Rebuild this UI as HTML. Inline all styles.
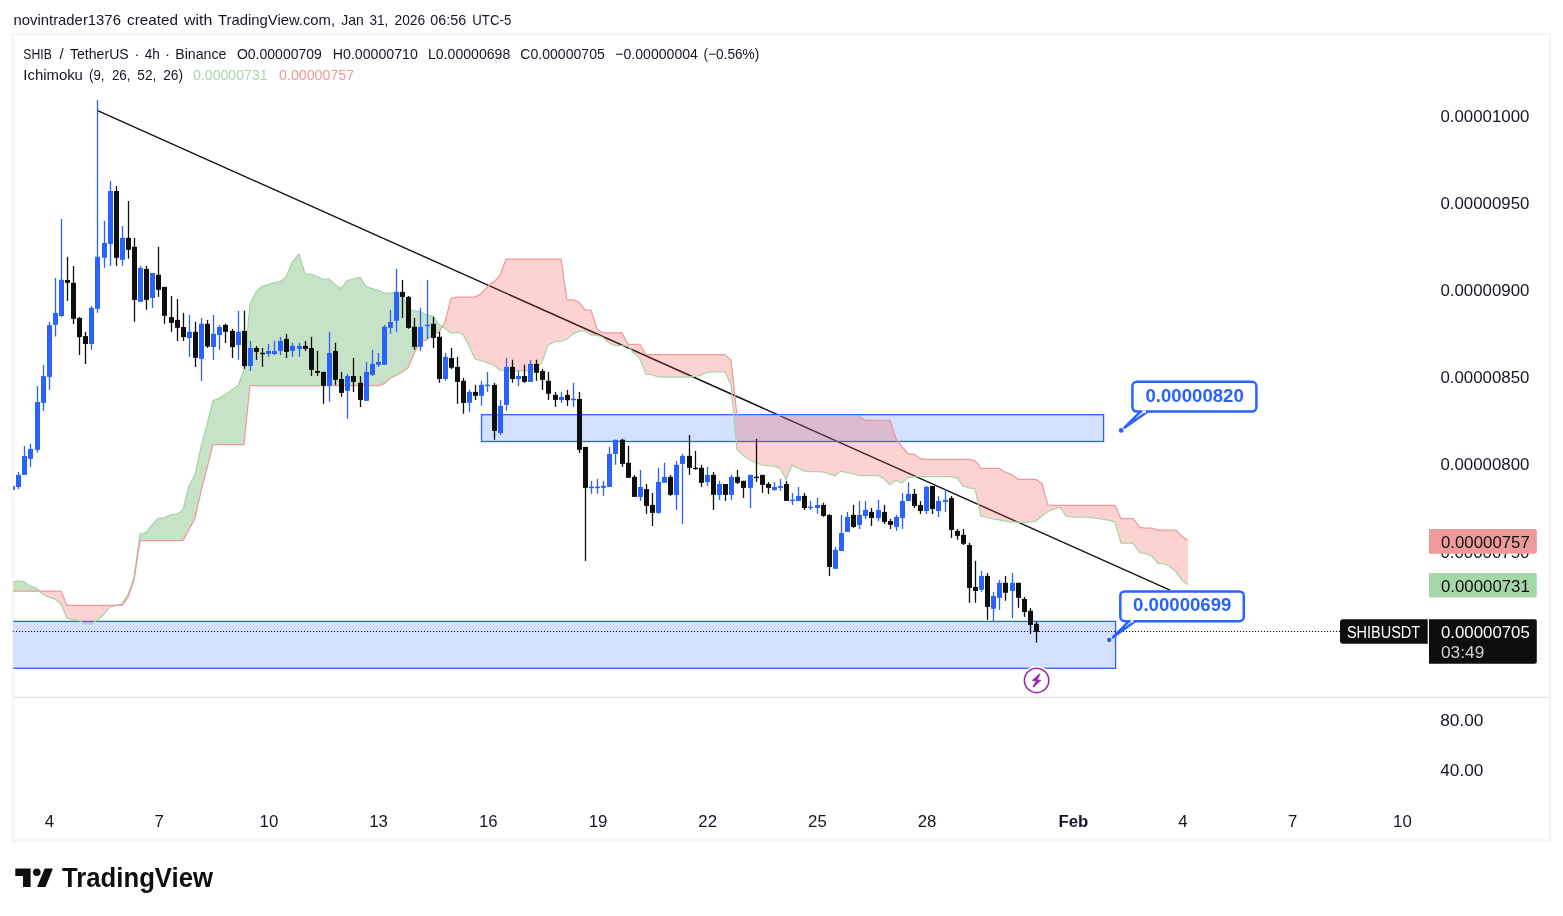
<!DOCTYPE html>
<html><head><meta charset="utf-8"><title>SHIB / TetherUS chart</title>
<style>
html,body{margin:0;padding:0;background:#fff;}
body{width:1563px;height:916px;overflow:hidden;font-family:"Liberation Sans",Arial,sans-serif;}
svg{display:block;position:absolute;left:0;top:0;}
text{font-family:"Liberation Sans",Arial,sans-serif;}
</style></head><body>
<svg width="1563" height="916" viewBox="0 0 1563 916">
<rect x="0" y="0" width="1563" height="916" fill="#fff"/>
<defs><clipPath id="pane"><rect x="13.3" y="35" width="1414.7" height="661.5"/></clipPath></defs>
<rect x="13" y="34" width="1537" height="806.3" fill="none" stroke="#f3f3f4" stroke-width="2"/>
<g clip-path="url(#pane)">
<line x1="97.6" y1="110.6" x2="1170" y2="590.2" stroke="#131313" stroke-width="1.4"/>
<rect x="481.5" y="414.7" width="622.1" height="26.8" fill="rgba(41,98,255,0.2)" stroke="#2962ff" stroke-width="1.3"/>
<rect x="0" y="621.4" width="1115.6" height="46.9" fill="rgba(41,98,255,0.2)" stroke="#2962ff" stroke-width="1.3"/>
<path d="M12.0,582.4 L18.0,580.9 L24.0,581.9 L30.0,585.9 L37.0,588.5 L39.5,591.0 L39.5,591.0 L37.0,591.0 L30.0,591.0 L24.0,591.0 L18.0,591.0 L12.0,591.0Z" fill="rgba(67,160,71,0.30)"/>
<path d="M39.5,591.0 L43.0,594.5 L49.0,597.4 L55.0,598.9 L61.0,603.9 L67.0,618.4 L73.0,619.3 L79.0,620.5 L85.0,623.8 L91.0,623.8 L97.0,620.5 L104.0,614.0 L110.0,606.9 L116.0,605.4 L116.0,605.4 L110.0,605.4 L104.0,605.4 L97.0,605.4 L91.0,605.4 L85.0,605.4 L79.0,605.4 L73.0,605.4 L67.0,605.4 L61.0,591.0 L55.0,591.0 L49.0,591.0 L43.0,591.0 L39.5,591.0Z" fill="rgba(244,67,54,0.235)"/>
<path d="M116.0,605.4 L122.0,603.9 L128.0,594.5 L134.0,578.0 L140.0,534.1 L146.0,532.6 L152.0,525.0 L158.0,518.3 L164.0,517.9 L171.0,514.4 L177.0,514.0 L183.0,510.0 L189.0,485.8 L195.0,474.7 L201.0,446.8 L207.0,424.6 L213.0,400.4 L219.0,398.6 L225.0,394.5 L232.0,389.7 L238.0,385.6 L244.0,370.0 L250.0,304.1 L256.0,292.0 L262.0,286.4 L268.0,284.6 L274.0,282.7 L280.0,281.8 L286.0,277.1 L292.0,262.3 L299.0,253.9 L305.0,274.0 L311.0,274.0 L317.0,276.2 L323.0,279.9 L329.0,279.0 L335.0,284.6 L341.0,288.6 L347.0,280.8 L353.0,279.0 L360.0,277.1 L366.0,286.4 L372.0,288.6 L378.0,290.1 L384.0,293.1 L390.0,293.1 L396.0,292.5 L402.0,293.9 L408.0,309.8 L414.0,310.6 L420.0,311.8 L427.0,315.4 L433.0,315.9 L439.0,324.6 L442.3,326.6 L442.3,326.6 L439.0,332.3 L433.0,333.4 L427.0,340.0 L420.0,341.1 L414.0,353.9 L408.0,367.7 L402.0,372.2 L396.0,375.5 L390.0,378.3 L384.0,383.9 L378.0,385.6 L372.0,385.6 L366.0,385.6 L360.0,385.6 L353.0,385.6 L347.0,385.6 L341.0,385.6 L335.0,385.6 L329.0,385.6 L323.0,385.6 L317.0,385.6 L311.0,385.6 L305.0,385.6 L299.0,385.6 L292.0,385.6 L286.0,385.6 L280.0,385.6 L274.0,385.6 L268.0,385.6 L262.0,385.6 L256.0,385.6 L250.0,385.6 L244.0,444.6 L238.0,444.6 L232.0,444.6 L225.0,444.6 L219.0,444.6 L213.0,444.6 L207.0,468.2 L201.0,491.4 L195.0,518.3 L189.0,529.5 L183.0,540.6 L177.0,540.6 L171.0,540.6 L164.0,540.6 L158.0,540.6 L152.0,540.6 L146.0,540.6 L140.0,540.6 L134.0,580.2 L128.0,597.4 L122.0,605.4 L116.0,605.4Z" fill="rgba(67,160,71,0.30)"/>
<path d="M442.3,326.6 L445.0,328.2 L451.0,333.4 L457.0,332.1 L463.0,334.4 L469.0,345.7 L475.0,359.0 L481.0,360.6 L487.0,362.6 L494.0,365.2 L500.0,370.3 L506.0,370.5 L512.0,370.5 L518.0,370.5 L524.0,370.5 L530.0,370.5 L536.0,368.5 L542.0,362.5 L548.0,344.9 L555.0,341.7 L561.0,341.2 L567.0,339.3 L573.0,333.8 L579.0,331.5 L585.0,330.6 L591.0,335.2 L597.0,335.2 L603.0,337.5 L609.0,343.0 L615.0,345.5 L622.0,345.5 L628.0,346.4 L634.0,353.2 L640.0,358.8 L646.0,374.2 L652.0,374.6 L658.0,376.8 L664.0,377.0 L670.0,377.0 L676.0,377.0 L682.0,377.0 L689.0,377.0 L695.0,376.4 L701.0,375.5 L707.0,372.3 L713.0,371.8 L719.0,371.8 L725.0,371.8 L731.0,384.8 L737.0,449.7 L743.0,455.3 L750.0,460.0 L756.0,462.7 L762.0,465.0 L768.0,465.5 L774.0,466.1 L780.0,468.3 L786.0,479.5 L792.0,465.2 L798.0,468.3 L804.0,471.1 L810.0,471.5 L817.0,471.5 L823.0,472.0 L829.0,473.9 L835.0,475.7 L841.0,471.1 L847.0,472.6 L853.0,473.9 L859.0,475.7 L865.0,475.7 L871.0,475.7 L878.0,475.7 L884.0,478.5 L890.0,485.0 L896.0,480.3 L902.0,483.1 L908.0,477.6 L914.0,477.0 L920.0,476.6 L926.0,476.6 L932.0,476.6 L938.0,476.6 L945.0,476.6 L951.0,476.6 L957.0,477.9 L963.0,485.9 L969.0,487.8 L975.0,488.7 L981.0,516.5 L987.0,517.5 L993.0,519.0 L999.0,519.9 L1005.0,521.2 L1012.0,522.1 L1018.0,522.1 L1024.0,522.7 L1030.0,522.1 L1036.0,520.8 L1042.0,516.1 L1048.0,511.5 L1054.0,509.2 L1060.0,507.2 L1066.0,516.1 L1073.0,517.0 L1079.0,517.0 L1085.0,517.2 L1091.0,517.6 L1097.0,518.3 L1103.0,519.5 L1109.0,520.2 L1115.0,522.1 L1121.0,543.0 L1127.0,543.0 L1133.0,543.4 L1140.0,552.7 L1146.0,553.6 L1152.0,556.0 L1158.0,563.5 L1164.0,563.5 L1170.0,566.8 L1176.0,571.8 L1182.0,580.2 L1188.0,584.8 L1188.0,540.6 L1182.0,536.5 L1176.0,530.0 L1170.0,530.0 L1164.0,530.0 L1158.0,530.0 L1152.0,528.2 L1146.0,528.2 L1140.0,527.3 L1133.0,518.5 L1127.0,518.5 L1121.0,518.5 L1115.0,505.4 L1109.0,505.4 L1103.0,505.4 L1097.0,505.4 L1091.0,505.4 L1085.0,505.4 L1079.0,505.4 L1073.0,505.4 L1066.0,505.4 L1060.0,505.4 L1054.0,505.4 L1048.0,505.4 L1042.0,483.6 L1036.0,479.4 L1030.0,479.4 L1024.0,479.4 L1018.0,479.4 L1012.0,474.8 L1005.0,472.0 L999.0,468.3 L993.0,468.3 L987.0,468.3 L981.0,468.3 L975.0,460.8 L969.0,459.4 L963.0,459.4 L957.0,459.4 L951.0,459.4 L945.0,459.4 L938.0,459.4 L932.0,459.4 L926.0,459.4 L920.0,458.4 L914.0,454.0 L908.0,454.0 L902.0,446.5 L896.0,438.6 L890.0,420.4 L884.0,420.4 L878.0,420.4 L871.0,420.4 L865.0,420.4 L859.0,415.6 L853.0,415.6 L847.0,415.6 L841.0,415.6 L835.0,415.6 L829.0,415.6 L823.0,415.6 L817.0,415.6 L810.0,415.6 L804.0,415.6 L798.0,415.6 L792.0,415.6 L786.0,415.6 L780.0,415.6 L774.0,415.6 L768.0,415.6 L762.0,415.6 L756.0,415.6 L750.0,415.6 L743.0,415.6 L737.0,415.6 L731.0,360.3 L725.0,354.5 L719.0,354.5 L713.0,354.5 L707.0,354.5 L701.0,354.5 L695.0,354.5 L689.0,354.5 L682.0,354.5 L676.0,354.5 L670.0,354.5 L664.0,354.5 L658.0,354.5 L652.0,354.5 L646.0,354.5 L640.0,344.3 L634.0,344.3 L628.0,344.3 L622.0,332.8 L615.0,332.8 L609.0,332.8 L603.0,332.8 L597.0,329.1 L591.0,310.2 L585.0,310.2 L579.0,302.2 L573.0,299.8 L567.0,299.8 L561.0,259.1 L555.0,259.1 L548.0,259.1 L542.0,259.1 L536.0,259.1 L530.0,259.1 L524.0,259.1 L518.0,259.1 L512.0,259.1 L506.0,259.1 L500.0,275.3 L494.0,281.8 L487.0,287.3 L481.0,293.8 L475.0,297.2 L469.0,297.2 L463.0,297.2 L457.0,297.2 L451.0,298.5 L445.0,322.1 L442.3,326.6Z" fill="rgba(244,67,54,0.235)"/>
<path d="M12.0,582.4 L18.0,580.9 L24.0,581.9 L30.0,585.9 L37.0,588.5 L43.0,594.5 L49.0,597.4 L55.0,598.9 L61.0,603.9 L67.0,618.4 L73.0,619.3 L79.0,620.5 L85.0,623.8 L91.0,623.8 L97.0,620.5 L104.0,614.0 L110.0,606.9 L116.0,605.4 L122.0,603.9 L128.0,594.5 L134.0,578.0 L140.0,534.1 L146.0,532.6 L152.0,525.0 L158.0,518.3 L164.0,517.9 L171.0,514.4 L177.0,514.0 L183.0,510.0 L189.0,485.8 L195.0,474.7 L201.0,446.8 L207.0,424.6 L213.0,400.4 L219.0,398.6 L225.0,394.5 L232.0,389.7 L238.0,385.6 L244.0,370.0 L250.0,304.1 L256.0,292.0 L262.0,286.4 L268.0,284.6 L274.0,282.7 L280.0,281.8 L286.0,277.1 L292.0,262.3 L299.0,253.9 L305.0,274.0 L311.0,274.0 L317.0,276.2 L323.0,279.9 L329.0,279.0 L335.0,284.6 L341.0,288.6 L347.0,280.8 L353.0,279.0 L360.0,277.1 L366.0,286.4 L372.0,288.6 L378.0,290.1 L384.0,293.1 L390.0,293.1 L396.0,292.5 L402.0,293.9 L408.0,309.8 L414.0,310.6 L420.0,311.8 L427.0,315.4 L433.0,315.9 L439.0,324.6 L445.0,328.2 L451.0,333.4 L457.0,332.1 L463.0,334.4 L469.0,345.7 L475.0,359.0 L481.0,360.6 L487.0,362.6 L494.0,365.2 L500.0,370.3 L506.0,370.5 L512.0,370.5 L518.0,370.5 L524.0,370.5 L530.0,370.5 L536.0,368.5 L542.0,362.5 L548.0,344.9 L555.0,341.7 L561.0,341.2 L567.0,339.3 L573.0,333.8 L579.0,331.5 L585.0,330.6 L591.0,335.2 L597.0,335.2 L603.0,337.5 L609.0,343.0 L615.0,345.5 L622.0,345.5 L628.0,346.4 L634.0,353.2 L640.0,358.8 L646.0,374.2 L652.0,374.6 L658.0,376.8 L664.0,377.0 L670.0,377.0 L676.0,377.0 L682.0,377.0 L689.0,377.0 L695.0,376.4 L701.0,375.5 L707.0,372.3 L713.0,371.8 L719.0,371.8 L725.0,371.8 L731.0,384.8 L737.0,449.7 L743.0,455.3 L750.0,460.0 L756.0,462.7 L762.0,465.0 L768.0,465.5 L774.0,466.1 L780.0,468.3 L786.0,479.5 L792.0,465.2 L798.0,468.3 L804.0,471.1 L810.0,471.5 L817.0,471.5 L823.0,472.0 L829.0,473.9 L835.0,475.7 L841.0,471.1 L847.0,472.6 L853.0,473.9 L859.0,475.7 L865.0,475.7 L871.0,475.7 L878.0,475.7 L884.0,478.5 L890.0,485.0 L896.0,480.3 L902.0,483.1 L908.0,477.6 L914.0,477.0 L920.0,476.6 L926.0,476.6 L932.0,476.6 L938.0,476.6 L945.0,476.6 L951.0,476.6 L957.0,477.9 L963.0,485.9 L969.0,487.8 L975.0,488.7 L981.0,516.5 L987.0,517.5 L993.0,519.0 L999.0,519.9 L1005.0,521.2 L1012.0,522.1 L1018.0,522.1 L1024.0,522.7 L1030.0,522.1 L1036.0,520.8 L1042.0,516.1 L1048.0,511.5 L1054.0,509.2 L1060.0,507.2 L1066.0,516.1 L1073.0,517.0 L1079.0,517.0 L1085.0,517.2 L1091.0,517.6 L1097.0,518.3 L1103.0,519.5 L1109.0,520.2 L1115.0,522.1 L1121.0,543.0 L1127.0,543.0 L1133.0,543.4 L1140.0,552.7 L1146.0,553.6 L1152.0,556.0 L1158.0,563.5 L1164.0,563.5 L1170.0,566.8 L1176.0,571.8 L1182.0,580.2 L1188.0,584.8" fill="none" stroke="#a5d6a7" stroke-width="1.25"/>
<path d="M12.0,591.0 L18.0,591.0 L24.0,591.0 L30.0,591.0 L37.0,591.0 L43.0,591.0 L49.0,591.0 L55.0,591.0 L61.0,591.0 L67.0,605.4 L73.0,605.4 L79.0,605.4 L85.0,605.4 L91.0,605.4 L97.0,605.4 L104.0,605.4 L110.0,605.4 L116.0,605.4 L122.0,605.4 L128.0,597.4 L134.0,580.2 L140.0,540.6 L146.0,540.6 L152.0,540.6 L158.0,540.6 L164.0,540.6 L171.0,540.6 L177.0,540.6 L183.0,540.6 L189.0,529.5 L195.0,518.3 L201.0,491.4 L207.0,468.2 L213.0,444.6 L219.0,444.6 L225.0,444.6 L232.0,444.6 L238.0,444.6 L244.0,444.6 L250.0,385.6 L256.0,385.6 L262.0,385.6 L268.0,385.6 L274.0,385.6 L280.0,385.6 L286.0,385.6 L292.0,385.6 L299.0,385.6 L305.0,385.6 L311.0,385.6 L317.0,385.6 L323.0,385.6 L329.0,385.6 L335.0,385.6 L341.0,385.6 L347.0,385.6 L353.0,385.6 L360.0,385.6 L366.0,385.6 L372.0,385.6 L378.0,385.6 L384.0,383.9 L390.0,378.3 L396.0,375.5 L402.0,372.2 L408.0,367.7 L414.0,353.9 L420.0,341.1 L427.0,340.0 L433.0,333.4 L439.0,332.3 L445.0,322.1 L451.0,298.5 L457.0,297.2 L463.0,297.2 L469.0,297.2 L475.0,297.2 L481.0,293.8 L487.0,287.3 L494.0,281.8 L500.0,275.3 L506.0,259.1 L512.0,259.1 L518.0,259.1 L524.0,259.1 L530.0,259.1 L536.0,259.1 L542.0,259.1 L548.0,259.1 L555.0,259.1 L561.0,259.1 L567.0,299.8 L573.0,299.8 L579.0,302.2 L585.0,310.2 L591.0,310.2 L597.0,329.1 L603.0,332.8 L609.0,332.8 L615.0,332.8 L622.0,332.8 L628.0,344.3 L634.0,344.3 L640.0,344.3 L646.0,354.5 L652.0,354.5 L658.0,354.5 L664.0,354.5 L670.0,354.5 L676.0,354.5 L682.0,354.5 L689.0,354.5 L695.0,354.5 L701.0,354.5 L707.0,354.5 L713.0,354.5 L719.0,354.5 L725.0,354.5 L731.0,360.3 L737.0,415.6 L743.0,415.6 L750.0,415.6 L756.0,415.6 L762.0,415.6 L768.0,415.6 L774.0,415.6 L780.0,415.6 L786.0,415.6 L792.0,415.6 L798.0,415.6 L804.0,415.6 L810.0,415.6 L817.0,415.6 L823.0,415.6 L829.0,415.6 L835.0,415.6 L841.0,415.6 L847.0,415.6 L853.0,415.6 L859.0,415.6 L865.0,420.4 L871.0,420.4 L878.0,420.4 L884.0,420.4 L890.0,420.4 L896.0,438.6 L902.0,446.5 L908.0,454.0 L914.0,454.0 L920.0,458.4 L926.0,459.4 L932.0,459.4 L938.0,459.4 L945.0,459.4 L951.0,459.4 L957.0,459.4 L963.0,459.4 L969.0,459.4 L975.0,460.8 L981.0,468.3 L987.0,468.3 L993.0,468.3 L999.0,468.3 L1005.0,472.0 L1012.0,474.8 L1018.0,479.4 L1024.0,479.4 L1030.0,479.4 L1036.0,479.4 L1042.0,483.6 L1048.0,505.4 L1054.0,505.4 L1060.0,505.4 L1066.0,505.4 L1073.0,505.4 L1079.0,505.4 L1085.0,505.4 L1091.0,505.4 L1097.0,505.4 L1103.0,505.4 L1109.0,505.4 L1115.0,505.4 L1121.0,518.5 L1127.0,518.5 L1133.0,518.5 L1140.0,527.3 L1146.0,528.2 L1152.0,528.2 L1158.0,530.0 L1164.0,530.0 L1170.0,530.0 L1176.0,530.0 L1182.0,536.5 L1188.0,540.6" fill="none" stroke="#ef9a9a" stroke-width="1.25"/>
<line x1="13" y1="631.5" x2="1340" y2="631.5" stroke="#111" stroke-width="1.2" stroke-dasharray="1.15 1.85"/>
<rect x="11.85" y="485.9" width="1.3" height="4.1" fill="#2962ff"/>
<rect x="10.0" y="485.9" width="5" height="4.1" fill="#2962ff"/>
<rect x="17.85" y="471.9" width="1.3" height="17.1" fill="#2962ff"/>
<rect x="16.0" y="474.9" width="5" height="12.1" fill="#2962ff"/>
<rect x="23.85" y="446.0" width="1.3" height="28.9" fill="#2962ff"/>
<rect x="22.0" y="456.0" width="5" height="18.9" fill="#2962ff"/>
<rect x="29.85" y="443.9" width="1.3" height="23.0" fill="#2962ff"/>
<rect x="28.0" y="448.9" width="5" height="10.0" fill="#2962ff"/>
<rect x="36.85" y="386.0" width="1.3" height="66.8" fill="#2962ff"/>
<rect x="35.0" y="402.0" width="5" height="47.9" fill="#2962ff"/>
<rect x="42.85" y="364.9" width="1.3" height="46.0" fill="#2962ff"/>
<rect x="41.0" y="376.0" width="5" height="26.9" fill="#2962ff"/>
<rect x="48.85" y="321.8" width="1.3" height="68.2" fill="#2962ff"/>
<rect x="47.0" y="325.1" width="5" height="51.8" fill="#2962ff"/>
<rect x="54.85" y="278.0" width="1.3" height="58.6" fill="#2962ff"/>
<rect x="53.0" y="312.9" width="5" height="11.9" fill="#2962ff"/>
<rect x="60.85" y="219.0" width="1.3" height="98.0" fill="#2962ff"/>
<rect x="59.0" y="279.8" width="5" height="36.2" fill="#2962ff"/>
<rect x="66.85" y="256.8" width="1.3" height="44.0" fill="#0e0e0e"/>
<rect x="65.0" y="280.0" width="5" height="2.8" fill="#0e0e0e"/>
<rect x="72.85" y="265.9" width="1.3" height="58.1" fill="#0e0e0e"/>
<rect x="71.0" y="282.8" width="5" height="36.0" fill="#0e0e0e"/>
<rect x="78.85" y="316.9" width="1.3" height="38.1" fill="#0e0e0e"/>
<rect x="77.0" y="317.9" width="5" height="19.2" fill="#0e0e0e"/>
<rect x="84.85" y="331.8" width="1.3" height="32.2" fill="#0e0e0e"/>
<rect x="83.0" y="336.1" width="5" height="7.9" fill="#0e0e0e"/>
<rect x="90.85" y="306.0" width="1.3" height="44.0" fill="#2962ff"/>
<rect x="89.0" y="307.9" width="5" height="36.1" fill="#2962ff"/>
<rect x="96.85" y="100.2" width="1.3" height="212.6" fill="#2962ff"/>
<rect x="95.0" y="256.8" width="5" height="52.0" fill="#2962ff"/>
<rect x="103.85" y="221.0" width="1.3" height="46.8" fill="#2962ff"/>
<rect x="102.0" y="242.9" width="5" height="14.8" fill="#2962ff"/>
<rect x="109.85" y="181.1" width="1.3" height="84.8" fill="#2962ff"/>
<rect x="108.0" y="191.0" width="5" height="52.9" fill="#2962ff"/>
<rect x="115.85" y="186.1" width="1.3" height="79.8" fill="#0e0e0e"/>
<rect x="114.0" y="191.0" width="5" height="66.8" fill="#0e0e0e"/>
<rect x="121.85" y="226.0" width="1.3" height="39.9" fill="#2962ff"/>
<rect x="120.0" y="237.9" width="5" height="21.9" fill="#2962ff"/>
<rect x="127.85" y="201.0" width="1.3" height="57.7" fill="#0e0e0e"/>
<rect x="126.0" y="237.9" width="5" height="11.9" fill="#0e0e0e"/>
<rect x="133.85" y="237.9" width="1.3" height="83.9" fill="#0e0e0e"/>
<rect x="132.0" y="246.8" width="5" height="53.1" fill="#0e0e0e"/>
<rect x="139.85" y="265.9" width="1.3" height="35.8" fill="#2962ff"/>
<rect x="138.0" y="268.0" width="5" height="33.8" fill="#2962ff"/>
<rect x="145.85" y="265.9" width="1.3" height="43.8" fill="#0e0e0e"/>
<rect x="144.0" y="268.9" width="5" height="31.0" fill="#0e0e0e"/>
<rect x="151.85" y="273.0" width="1.3" height="34.9" fill="#2962ff"/>
<rect x="150.0" y="273.0" width="5" height="24.9" fill="#2962ff"/>
<rect x="157.85" y="246.8" width="1.3" height="50.1" fill="#0e0e0e"/>
<rect x="156.0" y="274.8" width="5" height="15.0" fill="#0e0e0e"/>
<rect x="163.85" y="286.9" width="1.3" height="36.9" fill="#0e0e0e"/>
<rect x="162.0" y="286.9" width="5" height="28.9" fill="#0e0e0e"/>
<rect x="170.85" y="296.0" width="1.3" height="35.8" fill="#0e0e0e"/>
<rect x="169.0" y="317.1" width="5" height="5.8" fill="#0e0e0e"/>
<rect x="176.85" y="299.0" width="1.3" height="42.0" fill="#0e0e0e"/>
<rect x="175.0" y="319.9" width="5" height="8.0" fill="#0e0e0e"/>
<rect x="182.85" y="312.9" width="1.3" height="28.1" fill="#0e0e0e"/>
<rect x="181.0" y="327.0" width="5" height="10.1" fill="#0e0e0e"/>
<rect x="188.85" y="314.9" width="1.3" height="42.0" fill="#2962ff"/>
<rect x="187.0" y="331.8" width="5" height="6.2" fill="#2962ff"/>
<rect x="194.85" y="321.8" width="1.3" height="45.2" fill="#0e0e0e"/>
<rect x="193.0" y="331.8" width="5" height="26.0" fill="#0e0e0e"/>
<rect x="200.85" y="317.9" width="1.3" height="63.1" fill="#2962ff"/>
<rect x="199.0" y="323.8" width="5" height="35.1" fill="#2962ff"/>
<rect x="206.85" y="319.9" width="1.3" height="28.1" fill="#0e0e0e"/>
<rect x="205.0" y="323.8" width="5" height="22.7" fill="#0e0e0e"/>
<rect x="212.85" y="314.9" width="1.3" height="45.0" fill="#2962ff"/>
<rect x="211.0" y="333.8" width="5" height="13.2" fill="#2962ff"/>
<rect x="218.85" y="324.9" width="1.3" height="25.1" fill="#2962ff"/>
<rect x="217.0" y="327.0" width="5" height="8.0" fill="#2962ff"/>
<rect x="224.85" y="323.8" width="1.3" height="19.2" fill="#0e0e0e"/>
<rect x="223.0" y="324.9" width="5" height="6.9" fill="#0e0e0e"/>
<rect x="231.85" y="328.8" width="1.3" height="29.2" fill="#0e0e0e"/>
<rect x="230.0" y="330.9" width="5" height="16.2" fill="#0e0e0e"/>
<rect x="237.85" y="310.8" width="1.3" height="49.0" fill="#2962ff"/>
<rect x="236.0" y="331.8" width="5" height="13.2" fill="#2962ff"/>
<rect x="243.85" y="310.8" width="1.3" height="58.1" fill="#0e0e0e"/>
<rect x="242.0" y="330.9" width="5" height="35.1" fill="#0e0e0e"/>
<rect x="249.85" y="340.9" width="1.3" height="30.1" fill="#2962ff"/>
<rect x="248.0" y="348.0" width="5" height="18.0" fill="#2962ff"/>
<rect x="255.85" y="346.0" width="1.3" height="13.9" fill="#0e0e0e"/>
<rect x="254.0" y="348.0" width="5" height="3.9" fill="#0e0e0e"/>
<rect x="261.85" y="348.0" width="1.3" height="18.9" fill="#0e0e0e"/>
<rect x="260.0" y="352.8" width="5" height="1.4" fill="#0e0e0e"/>
<rect x="267.85" y="343.9" width="1.3" height="13.0" fill="#2962ff"/>
<rect x="266.0" y="351.0" width="5" height="3.0" fill="#2962ff"/>
<rect x="273.85" y="340.9" width="1.3" height="14.1" fill="#2962ff"/>
<rect x="272.0" y="351.0" width="5" height="3.0" fill="#2962ff"/>
<rect x="279.85" y="337.1" width="1.3" height="18.0" fill="#2962ff"/>
<rect x="278.0" y="340.9" width="5" height="10.0" fill="#2962ff"/>
<rect x="285.85" y="334.1" width="1.3" height="23.9" fill="#0e0e0e"/>
<rect x="284.0" y="338.9" width="5" height="13.0" fill="#0e0e0e"/>
<rect x="291.85" y="342.8" width="1.3" height="14.1" fill="#2962ff"/>
<rect x="290.0" y="345.9" width="5" height="5.0" fill="#2962ff"/>
<rect x="298.85" y="342.8" width="1.3" height="14.1" fill="#2962ff"/>
<rect x="297.0" y="345.9" width="5" height="3.0" fill="#2962ff"/>
<rect x="304.85" y="340.9" width="1.3" height="10.0" fill="#0e0e0e"/>
<rect x="303.0" y="345.9" width="5" height="3.0" fill="#0e0e0e"/>
<rect x="310.85" y="336.8" width="1.3" height="39.1" fill="#0e0e0e"/>
<rect x="309.0" y="348.0" width="5" height="21.9" fill="#0e0e0e"/>
<rect x="316.85" y="350.9" width="1.3" height="25.0" fill="#0e0e0e"/>
<rect x="315.0" y="371.0" width="5" height="1.9" fill="#0e0e0e"/>
<rect x="322.85" y="371.9" width="1.3" height="31.9" fill="#0e0e0e"/>
<rect x="321.0" y="371.9" width="5" height="13.9" fill="#0e0e0e"/>
<rect x="328.85" y="331.8" width="1.3" height="69.9" fill="#2962ff"/>
<rect x="327.0" y="353.0" width="5" height="32.8" fill="#2962ff"/>
<rect x="334.85" y="342.8" width="1.3" height="42.1" fill="#0e0e0e"/>
<rect x="333.0" y="350.9" width="5" height="28.9" fill="#0e0e0e"/>
<rect x="340.85" y="371.9" width="1.3" height="25.0" fill="#0e0e0e"/>
<rect x="339.0" y="379.0" width="5" height="13.9" fill="#0e0e0e"/>
<rect x="346.85" y="373.9" width="1.3" height="44.9" fill="#2962ff"/>
<rect x="345.0" y="376.0" width="5" height="14.8" fill="#2962ff"/>
<rect x="352.85" y="358.0" width="1.3" height="34.0" fill="#0e0e0e"/>
<rect x="351.0" y="376.0" width="5" height="5.9" fill="#0e0e0e"/>
<rect x="359.85" y="376.0" width="1.3" height="31.0" fill="#0e0e0e"/>
<rect x="358.0" y="382.8" width="5" height="17.1" fill="#0e0e0e"/>
<rect x="365.85" y="361.9" width="1.3" height="39.0" fill="#2962ff"/>
<rect x="364.0" y="371.9" width="5" height="28.9" fill="#2962ff"/>
<rect x="371.85" y="349.8" width="1.3" height="26.2" fill="#2962ff"/>
<rect x="370.0" y="363.9" width="5" height="10.9" fill="#2962ff"/>
<rect x="377.85" y="353.0" width="1.3" height="13.9" fill="#2962ff"/>
<rect x="376.0" y="361.9" width="5" height="3.0" fill="#2962ff"/>
<rect x="383.85" y="325.0" width="1.3" height="39.9" fill="#2962ff"/>
<rect x="382.0" y="326.8" width="5" height="38.0" fill="#2962ff"/>
<rect x="389.85" y="309.9" width="1.3" height="23.9" fill="#2962ff"/>
<rect x="388.0" y="322.0" width="5" height="5.9" fill="#2962ff"/>
<rect x="395.85" y="268.9" width="1.3" height="62.9" fill="#2962ff"/>
<rect x="394.0" y="291.9" width="5" height="28.9" fill="#2962ff"/>
<rect x="401.85" y="279.9" width="1.3" height="38.0" fill="#0e0e0e"/>
<rect x="400.0" y="291.9" width="5" height="5.0" fill="#0e0e0e"/>
<rect x="407.85" y="296.0" width="1.3" height="32.8" fill="#0e0e0e"/>
<rect x="406.0" y="296.9" width="5" height="31.0" fill="#0e0e0e"/>
<rect x="413.85" y="317.9" width="1.3" height="31.9" fill="#0e0e0e"/>
<rect x="412.0" y="326.8" width="5" height="20.0" fill="#0e0e0e"/>
<rect x="419.85" y="307.9" width="1.3" height="43.0" fill="#2962ff"/>
<rect x="418.0" y="326.8" width="5" height="20.0" fill="#2962ff"/>
<rect x="426.85" y="279.9" width="1.3" height="59.0" fill="#2962ff"/>
<rect x="425.0" y="324.8" width="5" height="1.4" fill="#2962ff"/>
<rect x="432.85" y="317.0" width="1.3" height="31.0" fill="#0e0e0e"/>
<rect x="431.0" y="323.8" width="5" height="14.1" fill="#0e0e0e"/>
<rect x="438.85" y="331.8" width="1.3" height="51.0" fill="#0e0e0e"/>
<rect x="437.0" y="336.8" width="5" height="42.1" fill="#0e0e0e"/>
<rect x="444.85" y="353.0" width="1.3" height="27.8" fill="#2962ff"/>
<rect x="443.0" y="356.9" width="5" height="22.1" fill="#2962ff"/>
<rect x="450.85" y="348.0" width="1.3" height="21.0" fill="#0e0e0e"/>
<rect x="449.0" y="358.0" width="5" height="9.8" fill="#0e0e0e"/>
<rect x="456.85" y="356.9" width="1.3" height="46.9" fill="#0e0e0e"/>
<rect x="455.0" y="366.9" width="5" height="15.0" fill="#0e0e0e"/>
<rect x="462.85" y="377.8" width="1.3" height="36.0" fill="#0e0e0e"/>
<rect x="461.0" y="380.8" width="5" height="22.1" fill="#0e0e0e"/>
<rect x="468.85" y="389.9" width="1.3" height="21.9" fill="#2962ff"/>
<rect x="467.0" y="391.9" width="5" height="10.9" fill="#2962ff"/>
<rect x="474.85" y="384.9" width="1.3" height="15.0" fill="#0e0e0e"/>
<rect x="473.0" y="391.9" width="5" height="3.9" fill="#0e0e0e"/>
<rect x="480.85" y="380.8" width="1.3" height="25.0" fill="#2962ff"/>
<rect x="479.0" y="384.9" width="5" height="10.9" fill="#2962ff"/>
<rect x="486.85" y="371.9" width="1.3" height="20.0" fill="#2962ff"/>
<rect x="485.0" y="384.7" width="5" height="1.4" fill="#2962ff"/>
<rect x="493.85" y="382.8" width="1.3" height="57.0" fill="#0e0e0e"/>
<rect x="492.0" y="384.9" width="5" height="46.0" fill="#0e0e0e"/>
<rect x="499.85" y="399.9" width="1.3" height="35.1" fill="#2962ff"/>
<rect x="498.0" y="405.9" width="5" height="27.1" fill="#2962ff"/>
<rect x="505.85" y="358.0" width="1.3" height="52.9" fill="#2962ff"/>
<rect x="504.0" y="366.9" width="5" height="38.0" fill="#2962ff"/>
<rect x="511.85" y="359.8" width="1.3" height="23.0" fill="#0e0e0e"/>
<rect x="510.0" y="366.9" width="5" height="12.1" fill="#0e0e0e"/>
<rect x="517.85" y="371.0" width="1.3" height="15.0" fill="#2962ff"/>
<rect x="516.0" y="376.0" width="5" height="3.0" fill="#2962ff"/>
<rect x="523.85" y="364.8" width="1.3" height="18.0" fill="#0e0e0e"/>
<rect x="522.0" y="376.0" width="5" height="5.9" fill="#0e0e0e"/>
<rect x="529.85" y="359.8" width="1.3" height="22.1" fill="#2962ff"/>
<rect x="528.0" y="363.9" width="5" height="18.0" fill="#2962ff"/>
<rect x="535.85" y="359.8" width="1.3" height="21.0" fill="#0e0e0e"/>
<rect x="534.0" y="363.9" width="5" height="8.9" fill="#0e0e0e"/>
<rect x="541.85" y="368.9" width="1.3" height="21.0" fill="#0e0e0e"/>
<rect x="540.0" y="371.0" width="5" height="8.9" fill="#0e0e0e"/>
<rect x="547.85" y="371.9" width="1.3" height="28.0" fill="#0e0e0e"/>
<rect x="546.0" y="380.8" width="5" height="13.0" fill="#0e0e0e"/>
<rect x="554.85" y="391.9" width="1.3" height="15.0" fill="#0e0e0e"/>
<rect x="553.0" y="394.9" width="5" height="5.0" fill="#0e0e0e"/>
<rect x="560.85" y="391.9" width="1.3" height="11.1" fill="#2962ff"/>
<rect x="559.0" y="396.9" width="5" height="3.2" fill="#2962ff"/>
<rect x="566.85" y="389.9" width="1.3" height="16.1" fill="#0e0e0e"/>
<rect x="565.0" y="394.9" width="5" height="5.2" fill="#0e0e0e"/>
<rect x="572.85" y="383.0" width="1.3" height="23.9" fill="#2962ff"/>
<rect x="571.0" y="398.8" width="5" height="1.4" fill="#2962ff"/>
<rect x="578.85" y="391.9" width="1.3" height="61.0" fill="#0e0e0e"/>
<rect x="577.0" y="399.0" width="5" height="50.8" fill="#0e0e0e"/>
<rect x="584.85" y="446.9" width="1.3" height="114.0" fill="#0e0e0e"/>
<rect x="583.0" y="446.9" width="5" height="41.0" fill="#0e0e0e"/>
<rect x="590.85" y="480.8" width="1.3" height="13.0" fill="#2962ff"/>
<rect x="589.0" y="486.7" width="5" height="1.4" fill="#2962ff"/>
<rect x="596.85" y="479.0" width="1.3" height="14.8" fill="#2962ff"/>
<rect x="595.0" y="486.7" width="5" height="1.4" fill="#2962ff"/>
<rect x="602.85" y="480.8" width="1.3" height="15.0" fill="#2962ff"/>
<rect x="601.0" y="485.8" width="5" height="2.0" fill="#2962ff"/>
<rect x="608.85" y="446.9" width="1.3" height="40.1" fill="#2962ff"/>
<rect x="607.0" y="453.9" width="5" height="33.0" fill="#2962ff"/>
<rect x="614.85" y="439.8" width="1.3" height="25.0" fill="#2962ff"/>
<rect x="613.0" y="439.8" width="5" height="14.1" fill="#2962ff"/>
<rect x="621.85" y="438.9" width="1.3" height="28.0" fill="#0e0e0e"/>
<rect x="620.0" y="439.8" width="5" height="24.1" fill="#0e0e0e"/>
<rect x="627.85" y="445.9" width="1.3" height="31.9" fill="#0e0e0e"/>
<rect x="626.0" y="462.8" width="5" height="15.0" fill="#0e0e0e"/>
<rect x="633.85" y="474.9" width="1.3" height="22.1" fill="#0e0e0e"/>
<rect x="632.0" y="476.9" width="5" height="20.0" fill="#0e0e0e"/>
<rect x="639.85" y="469.9" width="1.3" height="31.0" fill="#2962ff"/>
<rect x="638.0" y="486.9" width="5" height="10.0" fill="#2962ff"/>
<rect x="645.85" y="484.0" width="1.3" height="29.9" fill="#0e0e0e"/>
<rect x="644.0" y="489.0" width="5" height="16.9" fill="#0e0e0e"/>
<rect x="651.85" y="492.9" width="1.3" height="33.1" fill="#0e0e0e"/>
<rect x="650.0" y="504.9" width="5" height="8.0" fill="#0e0e0e"/>
<rect x="657.85" y="467.8" width="1.3" height="46.0" fill="#2962ff"/>
<rect x="656.0" y="481.9" width="5" height="31.0" fill="#2962ff"/>
<rect x="663.85" y="462.8" width="1.3" height="20.0" fill="#2962ff"/>
<rect x="662.0" y="476.9" width="5" height="5.9" fill="#2962ff"/>
<rect x="669.85" y="474.9" width="1.3" height="21.0" fill="#0e0e0e"/>
<rect x="668.0" y="476.9" width="5" height="18.0" fill="#0e0e0e"/>
<rect x="675.85" y="461.0" width="1.3" height="49.0" fill="#2962ff"/>
<rect x="674.0" y="464.8" width="5" height="30.1" fill="#2962ff"/>
<rect x="681.85" y="453.9" width="1.3" height="70.0" fill="#2962ff"/>
<rect x="680.0" y="455.9" width="5" height="8.0" fill="#2962ff"/>
<rect x="688.85" y="435.0" width="1.3" height="39.9" fill="#0e0e0e"/>
<rect x="687.0" y="455.9" width="5" height="11.9" fill="#0e0e0e"/>
<rect x="694.85" y="450.9" width="1.3" height="18.9" fill="#0e0e0e"/>
<rect x="693.0" y="467.7" width="5" height="1.4" fill="#0e0e0e"/>
<rect x="700.85" y="464.8" width="1.3" height="22.1" fill="#0e0e0e"/>
<rect x="699.0" y="467.8" width="5" height="15.0" fill="#0e0e0e"/>
<rect x="706.85" y="466.9" width="1.3" height="18.9" fill="#2962ff"/>
<rect x="705.0" y="474.9" width="5" height="7.1" fill="#2962ff"/>
<rect x="712.85" y="471.9" width="1.3" height="38.0" fill="#0e0e0e"/>
<rect x="711.0" y="474.9" width="5" height="20.0" fill="#0e0e0e"/>
<rect x="718.85" y="480.8" width="1.3" height="19.1" fill="#2962ff"/>
<rect x="717.0" y="484.0" width="5" height="10.9" fill="#2962ff"/>
<rect x="724.85" y="484.0" width="1.3" height="16.9" fill="#0e0e0e"/>
<rect x="723.0" y="484.0" width="5" height="10.9" fill="#0e0e0e"/>
<rect x="730.85" y="474.9" width="1.3" height="25.0" fill="#2962ff"/>
<rect x="729.0" y="476.9" width="5" height="18.0" fill="#2962ff"/>
<rect x="736.85" y="469.9" width="1.3" height="14.1" fill="#0e0e0e"/>
<rect x="735.0" y="476.9" width="5" height="5.9" fill="#0e0e0e"/>
<rect x="742.85" y="480.8" width="1.3" height="17.1" fill="#0e0e0e"/>
<rect x="741.0" y="480.8" width="5" height="7.1" fill="#0e0e0e"/>
<rect x="749.85" y="474.9" width="1.3" height="33.0" fill="#2962ff"/>
<rect x="748.0" y="474.9" width="5" height="13.0" fill="#2962ff"/>
<rect x="755.85" y="438.9" width="1.3" height="43.0" fill="#0e0e0e"/>
<rect x="754.0" y="476.7" width="5" height="1.4" fill="#0e0e0e"/>
<rect x="761.85" y="474.9" width="1.3" height="18.0" fill="#0e0e0e"/>
<rect x="760.0" y="474.9" width="5" height="10.0" fill="#0e0e0e"/>
<rect x="767.85" y="482.0" width="1.3" height="12.1" fill="#0e0e0e"/>
<rect x="766.0" y="484.0" width="5" height="3.9" fill="#0e0e0e"/>
<rect x="773.85" y="482.0" width="1.3" height="8.9" fill="#2962ff"/>
<rect x="772.0" y="487.0" width="5" height="3.0" fill="#2962ff"/>
<rect x="779.85" y="479.0" width="1.3" height="11.9" fill="#2962ff"/>
<rect x="778.0" y="486.0" width="5" height="1.9" fill="#2962ff"/>
<rect x="785.85" y="481.0" width="1.3" height="19.9" fill="#0e0e0e"/>
<rect x="784.0" y="484.0" width="5" height="16.9" fill="#0e0e0e"/>
<rect x="791.85" y="492.9" width="1.3" height="12.1" fill="#2962ff"/>
<rect x="790.0" y="499.7" width="5" height="1.4" fill="#2962ff"/>
<rect x="797.85" y="487.0" width="1.3" height="13.9" fill="#2962ff"/>
<rect x="796.0" y="495.9" width="5" height="5.0" fill="#2962ff"/>
<rect x="803.85" y="492.9" width="1.3" height="17.1" fill="#0e0e0e"/>
<rect x="802.0" y="495.9" width="5" height="12.1" fill="#0e0e0e"/>
<rect x="809.85" y="500.9" width="1.3" height="9.1" fill="#2962ff"/>
<rect x="808.0" y="506.7" width="5" height="1.4" fill="#2962ff"/>
<rect x="816.85" y="497.9" width="1.3" height="16.0" fill="#2962ff"/>
<rect x="815.0" y="505.0" width="5" height="3.0" fill="#2962ff"/>
<rect x="822.85" y="502.9" width="1.3" height="13.9" fill="#0e0e0e"/>
<rect x="821.0" y="505.0" width="5" height="10.9" fill="#0e0e0e"/>
<rect x="828.85" y="513.9" width="1.3" height="62.0" fill="#0e0e0e"/>
<rect x="827.0" y="515.0" width="5" height="52.0" fill="#0e0e0e"/>
<rect x="834.85" y="546.9" width="1.3" height="21.9" fill="#2962ff"/>
<rect x="833.0" y="549.9" width="5" height="18.9" fill="#2962ff"/>
<rect x="840.85" y="515.0" width="1.3" height="36.0" fill="#2962ff"/>
<rect x="839.0" y="533.0" width="5" height="18.0" fill="#2962ff"/>
<rect x="846.85" y="511.9" width="1.3" height="20.0" fill="#2962ff"/>
<rect x="845.0" y="516.9" width="5" height="15.0" fill="#2962ff"/>
<rect x="852.85" y="504.9" width="1.3" height="23.0" fill="#0e0e0e"/>
<rect x="851.0" y="514.9" width="5" height="12.1" fill="#0e0e0e"/>
<rect x="858.85" y="501.0" width="1.3" height="28.0" fill="#2962ff"/>
<rect x="857.0" y="514.9" width="5" height="10.0" fill="#2962ff"/>
<rect x="864.85" y="501.0" width="1.3" height="18.0" fill="#2962ff"/>
<rect x="863.0" y="509.9" width="5" height="6.1" fill="#2962ff"/>
<rect x="870.85" y="508.0" width="1.3" height="18.0" fill="#0e0e0e"/>
<rect x="869.0" y="511.9" width="5" height="6.1" fill="#0e0e0e"/>
<rect x="877.85" y="499.9" width="1.3" height="21.2" fill="#2962ff"/>
<rect x="876.0" y="509.9" width="5" height="8.2" fill="#2962ff"/>
<rect x="883.85" y="504.9" width="1.3" height="19.1" fill="#0e0e0e"/>
<rect x="882.0" y="511.9" width="5" height="10.0" fill="#0e0e0e"/>
<rect x="889.85" y="519.0" width="1.3" height="10.0" fill="#0e0e0e"/>
<rect x="888.0" y="521.0" width="5" height="3.9" fill="#0e0e0e"/>
<rect x="895.85" y="514.9" width="1.3" height="16.0" fill="#2962ff"/>
<rect x="894.0" y="516.9" width="5" height="10.0" fill="#2962ff"/>
<rect x="901.85" y="493.0" width="1.3" height="36.0" fill="#2962ff"/>
<rect x="900.0" y="501.0" width="5" height="17.1" fill="#2962ff"/>
<rect x="907.85" y="482.1" width="1.3" height="18.9" fill="#2962ff"/>
<rect x="906.0" y="493.9" width="5" height="7.1" fill="#2962ff"/>
<rect x="913.85" y="488.9" width="1.3" height="19.1" fill="#0e0e0e"/>
<rect x="912.0" y="493.9" width="5" height="12.1" fill="#0e0e0e"/>
<rect x="919.85" y="501.0" width="1.3" height="13.0" fill="#0e0e0e"/>
<rect x="918.0" y="505.1" width="5" height="5.9" fill="#0e0e0e"/>
<rect x="925.85" y="486.0" width="1.3" height="28.0" fill="#2962ff"/>
<rect x="924.0" y="486.9" width="5" height="24.1" fill="#2962ff"/>
<rect x="931.85" y="486.0" width="1.3" height="28.0" fill="#0e0e0e"/>
<rect x="930.0" y="486.0" width="5" height="23.0" fill="#0e0e0e"/>
<rect x="937.85" y="496.0" width="1.3" height="21.0" fill="#2962ff"/>
<rect x="936.0" y="501.0" width="5" height="10.0" fill="#2962ff"/>
<rect x="944.85" y="488.9" width="1.3" height="23.0" fill="#2962ff"/>
<rect x="943.0" y="499.9" width="5" height="2.0" fill="#2962ff"/>
<rect x="950.85" y="496.0" width="1.3" height="41.9" fill="#0e0e0e"/>
<rect x="949.0" y="498.0" width="5" height="31.9" fill="#0e0e0e"/>
<rect x="956.85" y="529.0" width="1.3" height="10.9" fill="#0e0e0e"/>
<rect x="955.0" y="530.9" width="5" height="5.0" fill="#0e0e0e"/>
<rect x="962.85" y="529.0" width="1.3" height="16.0" fill="#0e0e0e"/>
<rect x="961.0" y="534.9" width="5" height="8.9" fill="#0e0e0e"/>
<rect x="968.85" y="542.9" width="1.3" height="59.9" fill="#0e0e0e"/>
<rect x="967.0" y="545.0" width="5" height="42.9" fill="#0e0e0e"/>
<rect x="974.85" y="560.9" width="1.3" height="41.9" fill="#0e0e0e"/>
<rect x="973.0" y="586.9" width="5" height="4.1" fill="#0e0e0e"/>
<rect x="980.85" y="570.9" width="1.3" height="21.0" fill="#2962ff"/>
<rect x="979.0" y="575.9" width="5" height="13.9" fill="#2962ff"/>
<rect x="986.85" y="573.0" width="1.3" height="46.9" fill="#0e0e0e"/>
<rect x="985.0" y="575.9" width="5" height="31.0" fill="#0e0e0e"/>
<rect x="992.85" y="591.9" width="1.3" height="28.9" fill="#2962ff"/>
<rect x="991.0" y="596.0" width="5" height="12.8" fill="#2962ff"/>
<rect x="998.85" y="579.8" width="1.3" height="30.1" fill="#2962ff"/>
<rect x="997.0" y="582.8" width="5" height="15.0" fill="#2962ff"/>
<rect x="1004.85" y="575.9" width="1.3" height="24.9" fill="#0e0e0e"/>
<rect x="1003.0" y="582.8" width="5" height="10.0" fill="#0e0e0e"/>
<rect x="1011.85" y="573.0" width="1.3" height="44.9" fill="#2962ff"/>
<rect x="1010.0" y="582.8" width="5" height="8.2" fill="#2962ff"/>
<rect x="1017.85" y="582.8" width="1.3" height="25.0" fill="#0e0e0e"/>
<rect x="1016.0" y="582.8" width="5" height="15.0" fill="#0e0e0e"/>
<rect x="1023.85" y="596.9" width="1.3" height="20.0" fill="#0e0e0e"/>
<rect x="1022.0" y="599.0" width="5" height="13.0" fill="#0e0e0e"/>
<rect x="1029.85" y="607.9" width="1.3" height="26.0" fill="#0e0e0e"/>
<rect x="1028.0" y="610.8" width="5" height="14.1" fill="#0e0e0e"/>
<rect x="1035.85" y="621.8" width="1.3" height="20.8" fill="#0e0e0e"/>
<rect x="1034.0" y="623.8" width="5" height="8.0" fill="#0e0e0e"/>
</g>
<line x1="14" y1="697.3" x2="1549" y2="697.3" stroke="#e0e3eb" stroke-width="1.3"/>
<g>
<circle cx="1036.6" cy="680.4" r="14.3" fill="#fff"/>
<circle cx="1036.6" cy="680.4" r="12.2" fill="#fff" stroke="#9c27b0" stroke-width="1.6"/>
<polygon points="1040.6,674.1 1039.2,673.8 1031.6,680.8 1035.7,681.2 1032.5,686.6 1033.8,687.2 1041.6,680.0 1037.6,679.6" fill="#9c27b0"/>
</g>
<g>
<path d="M1140.5,411.6 L1123.8,428.2 L1147.8,411.6" fill="#fff" stroke="#2962ff" stroke-width="2.4" stroke-linejoin="round"/>
<rect x="1132.4" y="381.7" width="124" height="29.9" rx="4.5" fill="#fff" stroke="#2962ff" stroke-width="2.5"/>
<path d="M1142.3,411.6 L1146,411.6" stroke="#fff" stroke-width="2.7"/>
<circle cx="1121.2" cy="430.4" r="3.4" fill="#fff"/><circle cx="1121.2" cy="430.4" r="2.4" fill="#2962ff"/>
<text x="1145.5" y="402" font-size="18.3" fill="#2962ff" font-weight="bold" textLength="98.3" lengthAdjust="spacingAndGlyphs">0.00000820</text>
<path d="M1128.8,621.3 L1112.3,637.8 L1135.2,621.3" fill="#fff" stroke="#2962ff" stroke-width="2.4" stroke-linejoin="round"/>
<rect x="1120.3" y="591.4" width="123.5" height="29.9" rx="4.5" fill="#fff" stroke="#2962ff" stroke-width="2.5"/>
<path d="M1130.6,621.3 L1133.4,621.3" stroke="#fff" stroke-width="2.7"/>
<circle cx="1109.2" cy="640" r="3.4" fill="#fff"/><circle cx="1109.2" cy="640" r="2.4" fill="#2962ff"/>
<text x="1133.1" y="610.8" font-size="18.3" fill="#2962ff" font-weight="bold" textLength="98.3" lengthAdjust="spacingAndGlyphs">0.00000699</text>
</g>
<g>
<text y="24.7" font-size="15" fill="#131722"><tspan x="13.5" textLength="107.4" lengthAdjust="spacingAndGlyphs">novintrader1376</tspan> <tspan x="127" textLength="50.9" lengthAdjust="spacingAndGlyphs">created</tspan> <tspan x="184" textLength="28.3" lengthAdjust="spacingAndGlyphs">with</tspan> <tspan x="218" textLength="117.1" lengthAdjust="spacingAndGlyphs">TradingView.com,</tspan> <tspan x="341.3" textLength="22.5" lengthAdjust="spacingAndGlyphs">Jan</tspan> <tspan x="369.5" textLength="18.9" lengthAdjust="spacingAndGlyphs">31,</tspan> <tspan x="394.5" textLength="30.7" lengthAdjust="spacingAndGlyphs">2026</tspan> <tspan x="430.3" textLength="35.9" lengthAdjust="spacingAndGlyphs">06:56</tspan> <tspan x="472.3" textLength="39.0" lengthAdjust="spacingAndGlyphs">UTC-5</tspan></text>
<text y="58.6" font-size="15" fill="#131722"><tspan x="23.3" textLength="28.5" lengthAdjust="spacingAndGlyphs">SHIB</tspan> <tspan x="59.4">/</tspan> <tspan x="70" textLength="58.7" lengthAdjust="spacingAndGlyphs">TetherUS</tspan> <tspan x="134.6">·</tspan> <tspan x="144.8" textLength="15.0" lengthAdjust="spacingAndGlyphs">4h</tspan> <tspan x="165">·</tspan> <tspan x="175.3" textLength="51.0" lengthAdjust="spacingAndGlyphs">Binance</tspan></text>
<text x="236.9" y="58.6" font-size="15" fill="#131722" textLength="85" lengthAdjust="spacingAndGlyphs">O0.00000709</text>
<text x="332.8" y="58.6" font-size="15" fill="#131722" textLength="85.1" lengthAdjust="spacingAndGlyphs">H0.00000710</text>
<text x="428" y="58.6" font-size="15" fill="#131722" textLength="82.3" lengthAdjust="spacingAndGlyphs">L0.00000698</text>
<text x="520.3" y="58.6" font-size="15" fill="#131722" textLength="84.5" lengthAdjust="spacingAndGlyphs">C0.00000705</text>
<text y="58.6" font-size="15" fill="#131722"><tspan x="615.3" textLength="82.6" lengthAdjust="spacingAndGlyphs">−0.00000004</tspan> <tspan x="703.6" textLength="55.7" lengthAdjust="spacingAndGlyphs">(−0.56%)</tspan></text>
<text y="79.6" font-size="15" fill="#131722"><tspan x="23.3" textLength="59.6" lengthAdjust="spacingAndGlyphs">Ichimoku</tspan> <tspan x="89" textLength="15.5" lengthAdjust="spacingAndGlyphs">(9,</tspan> <tspan x="111.9" textLength="18.5" lengthAdjust="spacingAndGlyphs">26,</tspan> <tspan x="137.3" textLength="19.0" lengthAdjust="spacingAndGlyphs">52,</tspan> <tspan x="163.2" textLength="19.9" lengthAdjust="spacingAndGlyphs">26)</tspan></text>
<text x="193" y="79.6" font-size="15" fill="#a5d6a7" textLength="74.6" lengthAdjust="spacingAndGlyphs">0.00000731</text>
<text x="279.1" y="79.6" font-size="15" fill="#ef9a9a" textLength="75" lengthAdjust="spacingAndGlyphs">0.00000757</text>
<text x="1440.4" y="121.6" font-size="16.8" fill="#131722" textLength="89" lengthAdjust="spacingAndGlyphs">0.00001000</text>
<text x="1440.4" y="208.8" font-size="16.8" fill="#131722" textLength="89" lengthAdjust="spacingAndGlyphs">0.00000950</text>
<text x="1440.4" y="296.0" font-size="16.8" fill="#131722" textLength="89" lengthAdjust="spacingAndGlyphs">0.00000900</text>
<text x="1440.4" y="383.2" font-size="16.8" fill="#131722" textLength="89" lengthAdjust="spacingAndGlyphs">0.00000850</text>
<text x="1440.4" y="470.4" font-size="16.8" fill="#131722" textLength="89" lengthAdjust="spacingAndGlyphs">0.00000800</text>
<text x="1440.4" y="557.6" font-size="16.8" fill="#131722" textLength="89" lengthAdjust="spacingAndGlyphs">0.00000750</text>
<text x="1440.3" y="726.4" font-size="16.8" fill="#131722" textLength="43.1" lengthAdjust="spacingAndGlyphs">80.00</text>
<text x="1440.3" y="775.9" font-size="16.8" fill="#131722" textLength="43.1" lengthAdjust="spacingAndGlyphs">40.00</text>
<text x="49.5" y="826.5" font-size="16.8" fill="#131722" text-anchor="middle">4</text>
<text x="159.2" y="826.5" font-size="16.8" fill="#131722" text-anchor="middle">7</text>
<text x="268.9" y="826.5" font-size="16.8" fill="#131722" text-anchor="middle">10</text>
<text x="378.6" y="826.5" font-size="16.8" fill="#131722" text-anchor="middle">13</text>
<text x="488.3" y="826.5" font-size="16.8" fill="#131722" text-anchor="middle">16</text>
<text x="598.0" y="826.5" font-size="16.8" fill="#131722" text-anchor="middle">19</text>
<text x="707.7" y="826.5" font-size="16.8" fill="#131722" text-anchor="middle">22</text>
<text x="817.4" y="826.5" font-size="16.8" fill="#131722" text-anchor="middle">25</text>
<text x="927.1" y="826.5" font-size="16.8" fill="#131722" text-anchor="middle">28</text>
<text x="1073.3" y="826.5" font-size="16.8" fill="#131722" font-weight="bold" text-anchor="middle">Feb</text>
<text x="1183.0" y="826.5" font-size="16.8" fill="#131722" text-anchor="middle">4</text>
<text x="1292.7" y="826.5" font-size="16.8" fill="#131722" text-anchor="middle">7</text>
<text x="1402.4" y="826.5" font-size="16.8" fill="#131722" text-anchor="middle">10</text>
</g>
<g>
<path d="M1429,529.1 H1534.8 a2,2 0 0 1 2,2 V551.8 a2,2 0 0 1 -2,2 H1429 Z" fill="#ef9a9a"/>
<text x="1441" y="547.7" font-size="16.8" fill="#0e0e0e" textLength="88.8" lengthAdjust="spacingAndGlyphs">0.00000757</text>
<path d="M1429,573.1 H1534.8 a2,2 0 0 1 2,2 V595.6 a2,2 0 0 1 -2,2 H1429 Z" fill="#a5d6a7"/>
<text x="1441" y="591.7" font-size="16.8" fill="#0e0e0e" textLength="88.8" lengthAdjust="spacingAndGlyphs">0.00000731</text>
<path d="M1343,619.3 H1427.7 V643.7 H1343 a3,3 0 0 1 -3,-3 V622.3 a3,3 0 0 1 3,-3 Z" fill="#0e0e0e"/>
<text x="1346.9" y="637.7" font-size="16.8" fill="#ffffff" textLength="73.3" lengthAdjust="spacingAndGlyphs">SHIBUSDT</text>
<path d="M1429,619.3 H1534.8 a2,2 0 0 1 2,2 V661.7 a2,2 0 0 1 -2,2 H1429 Z" fill="#0e0e0e"/>
<text x="1441" y="637.7" font-size="16.8" fill="#ffffff" textLength="88.8" lengthAdjust="spacingAndGlyphs">0.00000705</text>
<text x="1441" y="657.6" font-size="16.8" fill="#cfcfcf" textLength="43.3" lengthAdjust="spacingAndGlyphs">03:49</text>
</g>
<g>
<path d="M15.3,868.4 H30.6 V887.1 H23 V876.1 H15.3 Z" fill="#0e0e0e"/>
<circle cx="36.8" cy="872.2" r="3.8" fill="#0e0e0e"/>
<path d="M44.7,868.4 H52.9 L45.5,887.1 H37.1 Z" fill="#0e0e0e"/>
<text x="62" y="887.1" font-size="27" fill="#0e0e0e" font-weight="bold" textLength="151" lengthAdjust="spacingAndGlyphs">TradingView</text>
</g>
</svg>
</body></html>
